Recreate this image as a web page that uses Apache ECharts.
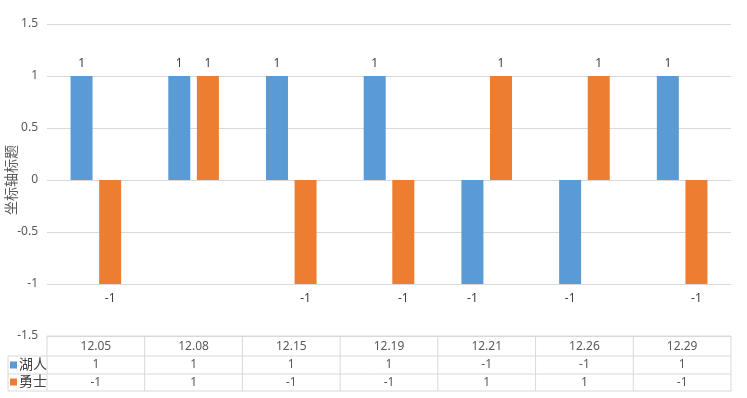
<!DOCTYPE html>
<html>
<head>
<meta charset="UTF-8">
<title>bar_table</title>
<script src="https://cdn.jsdelivr.net/npm/echarts@6/dist/echarts.min.js"></script>
<style>
  html, body { margin: 0; padding: 0; background: #fff; }
  #main { width: 747px; height: 398px; }
</style>
</head>
<body>
<div id="main"></div>
<script>
var dates = ['12.05', '12.08', '12.15', '12.19', '12.21', '12.26', '12.29'];
var huren = [1, 1, 1, 1, -1, -1, 1];
var yongshi = [-1, 1, -1, -1, 1, 1, -1];
var names = ['湖人', '勇士'];
var colors = ['#5B9BD5', '#ED7D31'];

var font = "'Noto Sans', 'Noto Sans CJK SC', sans-serif";
var gray = '#595959';
var lineColor = '#d9d9d9';

// label above for positive, below for negative
function withLabels(arr) {
  return arr.map(function (v) {
    return { value: v, label: { position: v >= 0 ? 'top' : 'bottom', distance: v >= 0 ? 6 : 9 } };
  });
}

var myChart = echarts.init(document.getElementById('main'));

var option = {
  animation: false,
  textStyle: { fontFamily: font },
  color: colors,
  legend: {
    data: names,
    orient: 'vertical',
    left: 10,
    top: 358,
    padding: 0,
    itemGap: 3,
    itemWidth: 7,
    itemHeight: 7,
    icon: 'rect',
    textStyle: { fontSize: 14, color: '#404040', padding: [0, 0, 0, -3], lineHeight: 14 }
  },
  grid: { left: 47, right: 16, top: 24, bottom: 62, outerBoundsMode: 'none', containLabel: false },
  xAxis: {
    type: 'category',
    data: dates,
    axisLine: { show: false },
    axisTick: { show: false },
    axisLabel: { margin: 5, color: gray, fontSize: 12 }
  },
  yAxis: {
    type: 'value',
    min: -1.5,
    max: 1.5,
    interval: 0.5,
    name: '坐标轴标题',
    nameLocation: 'middle',
    nameGap: 28,
    nameMoveOverlap: false,
    nameTextStyle: { fontSize: 14, color: gray },
    axisLine: { show: false },
    axisTick: { show: false },
    axisLabel: { color: gray, fontSize: 12, margin: 9 },
    splitLine: { lineStyle: { color: lineColor } }
  },
  series: [
    {
      name: names[0], type: 'bar', data: withLabels(huren),
      barWidth: 22, barGap: '30%',
      label: { show: true, color: '#404040', fontSize: 12 }
    },
    {
      name: names[1], type: 'bar', data: withLabels(yongshi),
      barWidth: 22, barGap: '30%',
      label: { show: true, color: '#404040', fontSize: 12 }
    }
  ]
};
myChart.setOption(option);

// data table under the chart
(function () {
  var c0 = myChart.convertToPixel({ xAxisIndex: 0 }, 0);
  var band = myChart.convertToPixel({ xAxisIndex: 0 }, 1) - c0;
  var tLeft = c0 - band / 2;
  var tRight = tLeft + band * dates.length;
  var tTop = myChart.convertToPixel({ yAxisIndex: 0 }, -1.5);
  var rowY = [tTop, tTop + 20, tTop + 38, tTop + 55];
  var legendLeft = 8;
  var els = [];
  function line(x1, y1, x2, y2) {
    els.push({ type: 'line', shape: { x1: x1, y1: y1, x2: x2, y2: y2 }, style: { stroke: lineColor, lineWidth: 1 } });
  }
  line(tLeft, rowY[0], tRight, rowY[0]);
  for (var r = 1; r < rowY.length; r++) line(legendLeft, rowY[r], tRight, rowY[r]);
  line(legendLeft, rowY[1], legendLeft, rowY[3]);
  for (var i = 0; i <= dates.length; i++) line(tLeft + band * i, rowY[0], tLeft + band * i, rowY[3]);
  [huren, yongshi].forEach(function (arr, k) {
    arr.forEach(function (v, j) {
      els.push({
        type: 'text',
        x: c0 + band * j,
        y: (rowY[k + 1] + rowY[k + 2]) / 2,
        style: { text: String(v), fill: gray, font: '12px ' + font, align: 'center', verticalAlign: 'middle' }
      });
    });
  });
  myChart.setOption({ graphic: els });
})();
</script>
</body>
</html>
